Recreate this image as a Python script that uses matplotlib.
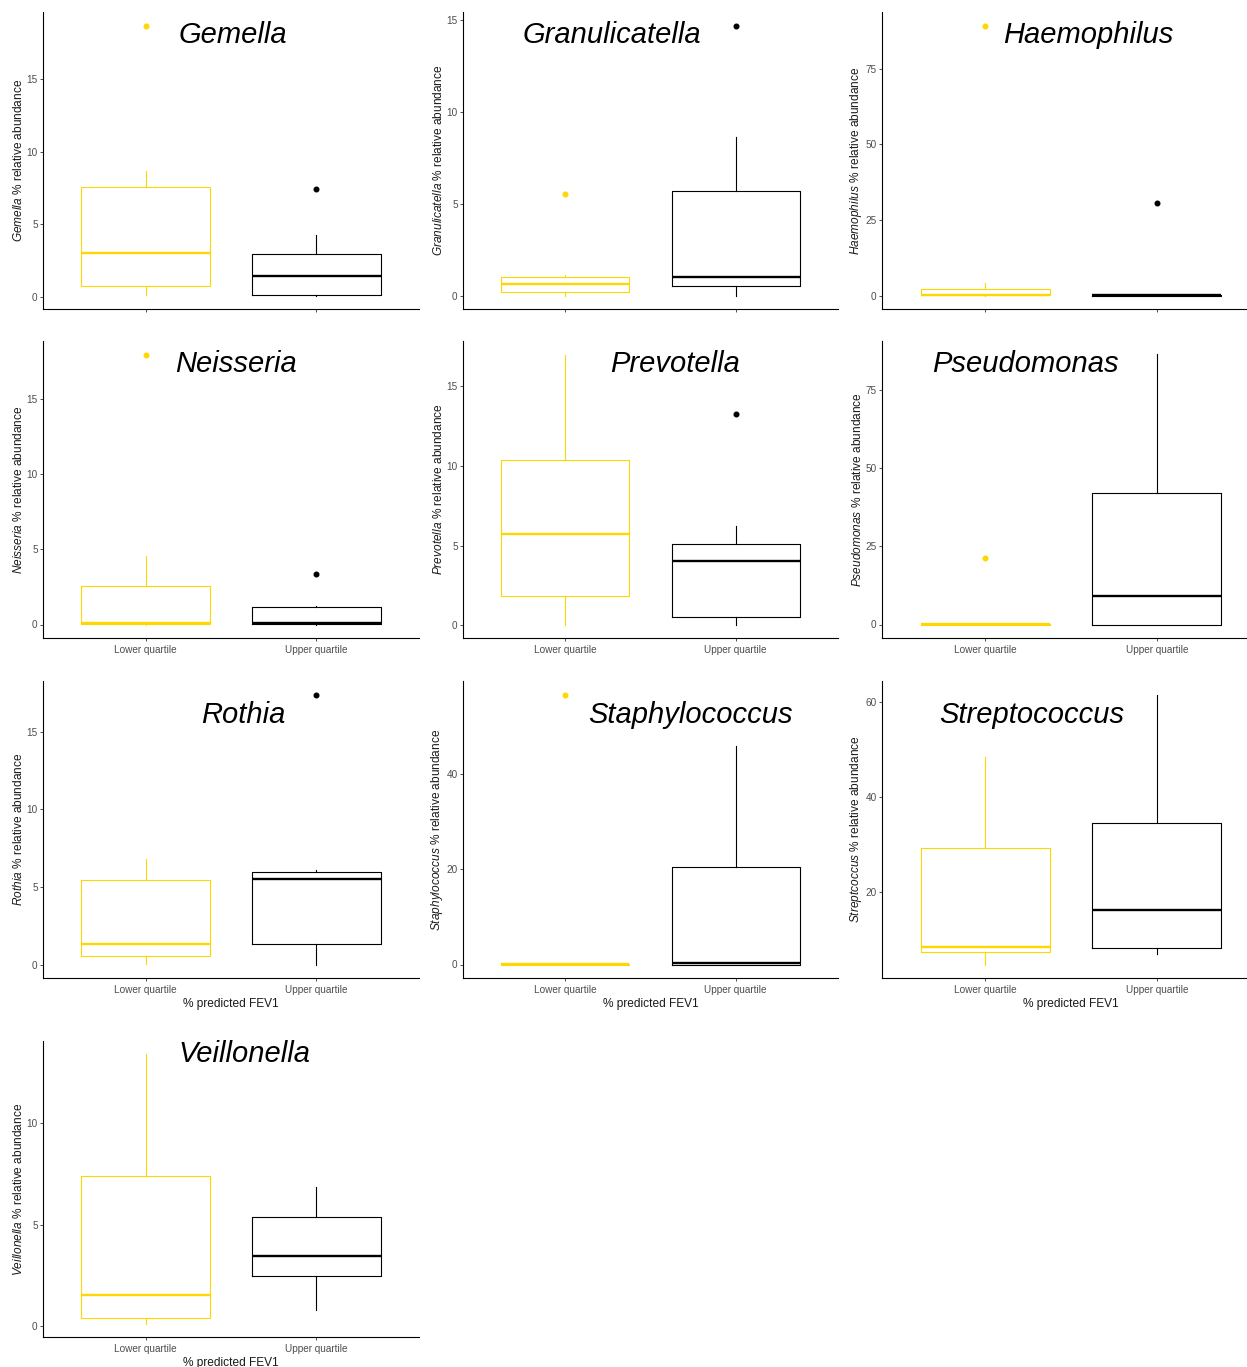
import matplotlib
matplotlib.use("Agg")
import matplotlib.pyplot as plt
from matplotlib.ticker import MultipleLocator

plt.rcParams['font.family'] = ['Liberation Sans', 'DejaVu Sans']
plt.rcParams['mathtext.fontset'] = 'custom'
plt.rcParams['mathtext.rm'] = 'Liberation Sans'
plt.rcParams['mathtext.it'] = 'Liberation Sans:italic'

genera = ["Gemella", "Granulicatella", "Haemophilus", "Neisseria", "Prevotella",
          "Pseudomonas", "Rothia", "Staphylococcus", "Streptococcus", "Veillonella"]
ylab_names = ["Gemella", "Granulicatella", "Haemophilus", "Neisseria", "Prevotella",
              "Pseudomonas", "Rothia", "Staphylococcus", "Streptcoccus", "Veillonella"]
groups = ["Lower quartile", "Upper quartile"]

# whisker low, Q1, median, Q3, whisker high (% relative abundance)
lower_stats = [
    (0.12, 0.76, 3.04, 7.60, 8.69),
    (0.04, 0.22, 0.69, 1.07, 1.16),
    (0.00, 0.05, 0.25, 2.30, 4.00),
    (0.00, 0.02, 0.09, 2.59, 4.54),
    (0.06, 1.84, 5.74, 10.35, 17.00),
    (0.00, 0.00, 0.10, 0.10, 0.10),
    (0.10, 0.56, 1.37, 5.46, 6.80),
    (0.00, 0.00, 0.20, 0.20, 0.20),
    (4.84, 7.44, 8.42, 29.33, 48.56),
    (0.13, 0.41, 1.56, 7.42, 13.40),
]
upper_stats = [
    (0.10, 0.12, 1.47, 2.97, 4.26),
    (0.04, 0.53, 1.05, 5.73, 8.65),
    (0.00, 0.00, 0.05, 0.10, 0.20),
    (0.00, 0.02, 0.09, 1.15, 1.26),
    (0.06, 0.54, 4.02, 5.13, 6.24),
    (0.00, 0.00, 9.15, 42.00, 86.30),
    (0.04, 1.35, 5.50, 5.97, 6.08),
    (0.00, 0.00, 0.25, 20.56, 45.90),
    (7.09, 8.21, 16.35, 34.53, 61.60),
    (0.79, 2.48, 3.47, 5.38, 6.88),
]
lower_outliers = [[18.7], [5.55], [89.3], [17.96], [], [21.2], [], [56.8], [], []]
upper_outliers = [[7.47], [14.7], [30.6], [3.38], [13.24], [], [17.38], [], [], []]

group_colors = ["#FFD700", "#000000"]
tick_steps = [5, 5, 25, 5, 5, 25, 5, 20, 20, 5]

# panel boxes in pixels: left, top, right, bottom (third column runs past the edge)
W, H = 1247, 1367
col_x = [(43, 419), (463, 838), (882, 1260)]
row_y = [(12, 309), (341, 638), (681, 978), (1041, 1337)]
title_pos = [(0.504, 0.895), (0.398, 0.897), (0.545, 0.895),
             (0.514, 0.894), (0.566, 0.894), (0.379, 0.894),
             (0.534, 0.857), (0.606, 0.857), (0.397, 0.857),
             (0.537, 0.928)]

fig = plt.figure(figsize=(W / 100, H / 100), dpi=100)

for i, name in enumerate(genera):
    r, c = divmod(i, 3)
    x0, x1 = col_x[c]
    y0, y1 = row_y[r]
    ax = fig.add_axes([x0 / W, 1 - y1 / H, (x1 - x0) / W, (y1 - y0) / H])

    for k, (stats, fl) in enumerate([(lower_stats[i], lower_outliers[i]),
                                     (upper_stats[i], upper_outliers[i])]):
        col = group_colors[k]
        st = dict(whislo=stats[0], q1=stats[1], med=stats[2], q3=stats[3],
                  whishi=stats[4], fliers=fl)
        ax.bxp([st], positions=[k + 1], widths=0.75, showcaps=False,
               boxprops=dict(color=col, linewidth=0.8),
               whiskerprops=dict(color=col, linewidth=0.8),
               medianprops=dict(color=col, linewidth=1.7),
               flierprops=dict(marker='o', markerfacecolor=col, markeredgecolor=col,
                               markersize=3.3, linestyle='none'))

    vals = list(lower_stats[i]) + list(upper_stats[i]) + lower_outliers[i] + upper_outliers[i]
    lo, hi = min(vals), max(vals)
    pad = 0.05 * (hi - lo)
    ax.set_ylim(lo - pad, hi + pad)
    ax.set_xlim(0.4, 2.6)
    ax.yaxis.set_major_locator(MultipleLocator(tick_steps[i]))

    ax.set_xticks([1, 2])
    if r == 0:
        ax.set_xticklabels(["", ""])
    else:
        ax.set_xticklabels(groups)
    if r >= 2:
        ax.set_xlabel("% predicted FEV1", fontsize=8.6, color="#1A1A1A", labelpad=2)

    ax.set_ylabel(r"$\mathit{%s}$ %% relative abundance" % ylab_names[i],
                  fontsize=8.6, color="#1A1A1A", labelpad=1)

    for side in ["top", "right"]:
        ax.spines[side].set_visible(False)
    for side in ["left", "bottom"]:
        ax.spines[side].set_linewidth(0.8)
        ax.spines[side].set_color("#000000")
    ax.tick_params(axis="both", length=2.2, width=0.6, color="#333333",
                   labelsize=7.2, labelcolor="#4D4D4D", pad=1.6)
    ax.tick_params(axis="x", pad=3)

    tx, ty = title_pos[i]
    ax.text(tx, ty, name, transform=ax.transAxes, ha="center", va="baseline",
            fontsize=21, fontstyle="italic", color="black")

fig.savefig("out.png", dpi=100)
